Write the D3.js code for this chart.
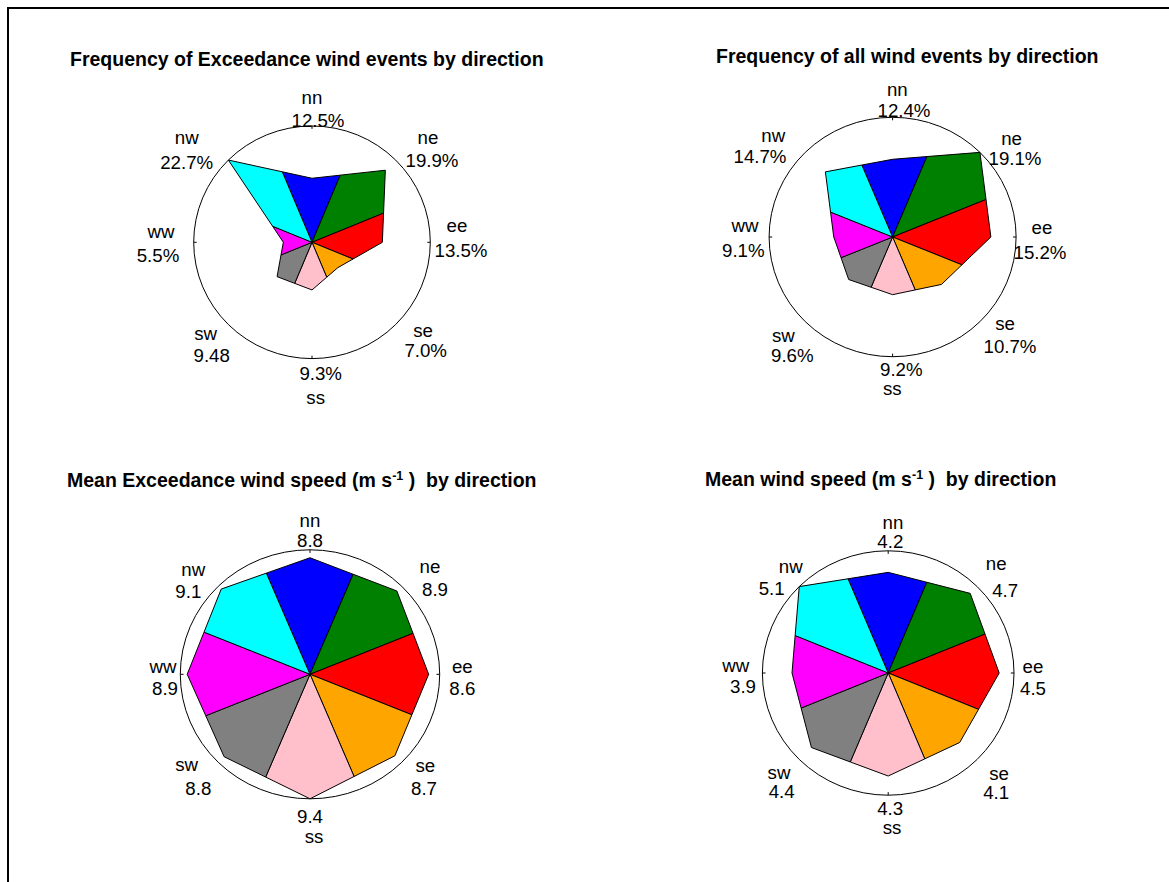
<!DOCTYPE html>
<html><head><meta charset="utf-8">
<script src="https://cdn.jsdelivr.net/npm/d3@7"></script>
<style>
html,body{margin:0;padding:0;background:#fff;}
svg{display:block;}
text{font-family:"Liberation Sans",Arial,Helvetica,sans-serif;fill:#000;}
</style></head>
<body>
<svg id="chart" width="1169" height="882"></svg>
<script>
// ---------- data ----------
const directions = ["nn","ne","ee","se","ss","sw","ww","nw"];
const sectorColors = ["#0000ff","#008000","#ff0000","#ffa500","#ffc0cb","#808080","#ff00ff","#00ffff"];

const exceedFreq = [12.5, 19.9, 13.5, 7.0, 9.3, 9.48, 5.5, 22.7];
const exceedFreqLabels = ["12.5%","19.9%","13.5%","7.0%","9.3%","9.48","5.5%","22.7%"];

const allFreq = [12.4, 19.1, 15.2, 10.7, 9.2, 9.6, 9.1, 14.7];
const allFreqLabels = ["12.4%","19.1%","15.2%","10.7%","9.2%","9.6%","9.1%","14.7%"];

const exceedSpeed = [8.8, 8.9, 8.6, 8.7, 9.4, 8.8, 8.9, 9.1];
const exceedSpeedLabels = ["8.8","8.9","8.6","8.7","9.4","8.8","8.9","9.1"];

const meanSpeed = [4.2, 4.7, 4.5, 4.1, 4.3, 4.4, 3.9, 5.1];
const meanSpeedLabels = ["4.2","4.7","4.5","4.1","4.3","4.4","3.9","5.1"];

// ---------- layout ----------
const panels = [
  {values: exceedFreq, labels: exceedFreqLabels, cx: 312, cy: 242.3, rx: 118.3, ry: 116.3,
   title: [["Frequency of Exceedance wind events by direction"]], tx: 70, ty: 66,
   // [nameDx,nameDy,valueDx,valueDy] per direction
   lab: [[0,-138,6,-115.6],[116,-98,120,-75],[145,-10.6,149,14.4],[111,95,113.7,115],
         [3.7,161.5,8.7,138],[-106.3,98,-100.3,119.4],[-151,-4,-154,20],[-125.3,-98,-125.3,-73]]},
  {values: allFreq, labels: allFreqLabels, cx: 892.6, cy: 237, rx: 123.5, ry: 119.7,
   title: [["Frequency of all wind events by direction"]], tx: 716, ty: 63,
   lab: [[4.7,-141,11.4,-119.7],[119,-92,122.4,-72],[149.4,-3,147.4,22],[112.4,93,117.4,116],
         [-0.3,158,8.7,139],[-109.3,104.7,-100.3,124.7],[-147.6,-5.3,-149.3,19.7],[-119.3,-95.3,-132.6,-73.7]]},
  {values: exceedSpeed, labels: exceedSpeedLabels, cx: 310, cy: 674.3, rx: 129.7, ry: 124.5,
   title: [["Mean Exceedance wind speed (m s"],["-1","sup"],[" )  by direction"]], tx: 67, ty: 487,
   lab: [[0,-147.6,0,-127.6],[120,-101.6,125,-78.6],[152.3,-1.6,152.3,20.7],[115.3,97.4,114,120.7],
         [4,168.4,0,149],[-123.3,96.4,-111.7,120.7],[-147,-1.3,-145,20.7],[-116.7,-98.3,-121.7,-76]]},
  {values: meanSpeed, labels: meanSpeedLabels, cx: 888.2, cy: 673, rx: 125.8, ry: 122.2,
   title: [["Mean wind speed (m s"],["-1","sup"],[" )  by direction"]], tx: 705, ty: 486,
   lab: [[4.8,-143.7,2.1,-124.7],[108,-103,117,-75.7],[144.8,0,144.8,22],[110.8,107,108,126],
         [3.8,161.3,2,142.2],[-109.2,106.3,-106.5,125.3],[-152.5,-1.3,-145.2,20.3],[-97.5,-99.7,-116.5,-78]]}
];

const svg = d3.select("#chart");

// frame (top and left edges)
svg.append("path").attr("d","M8,882 L8,8 L1169,8").attr("fill","none").attr("stroke","#000").attr("stroke-width",2);

const step = Math.PI/4, half = Math.PI/8;

panels.forEach(p => {
  const vmax = d3.max(p.values);
  const sx = d3.scaleLinear().domain([0, vmax]).range([0, p.rx]);
  const sy = d3.scaleLinear().domain([0, vmax]).range([0, p.ry]);
  const pt = (r, a) => [p.cx + sx(r*Math.sin(a)), p.cy - sy(r*Math.cos(a))];
  const g = svg.append("g");

  // outer circle (ellipse in screen space)
  g.append("ellipse").attr("cx",p.cx).attr("cy",p.cy).attr("rx",sx(vmax)).attr("ry",sy(vmax))
    .attr("fill","none").attr("stroke","#000").attr("stroke-width",1);
  // small ticks at cardinal points
  [0,2,4,6].forEach(i => {
    const a = i*step;
    const p1 = pt(vmax, a), p2 = pt(vmax*0.975, a);
    g.append("line").attr("x1",p1[0]).attr("y1",p1[1]).attr("x2",p2[0]).attr("y2",p2[1])
      .attr("stroke","#000").attr("stroke-width",1);
  });

  const n = p.values.length;
  const boundary = (i) => { // between direction i and i+1
    const r1 = p.values[i], r2 = p.values[(i+1)%n];
    const rb = 2*r1*r2*Math.cos(half)/(r1+r2);
    return pt(rb, i*step + half);
  };
  const sectors = p.values.map((v,i) => {
    const a = i*step;
    return [[p.cx,p.cy], boundary((i-1+n)%n), pt(v,a), boundary(i)];
  });
  g.selectAll("path.sector").data(sectors).join("path").attr("class","sector")
    .attr("d", d => "M" + d.map(q => q[0].toFixed(2)+","+q[1].toFixed(2)).join("L") + "Z")
    .attr("fill", (d,i) => sectorColors[i])
    .attr("stroke","#000").attr("stroke-width",1).attr("stroke-linejoin","miter");

  // labels
  directions.forEach((d,i) => {
    const L = p.lab[i];
    g.append("text").attr("x",p.cx+L[0]).attr("y",p.cy+L[1]).attr("text-anchor","middle")
      .style("font-size","18.7px").text(d);
    g.append("text").attr("x",p.cx+L[2]).attr("y",p.cy+L[3]).attr("text-anchor","middle")
      .style("font-size","18.7px").text(p.labels[i]);
  });

  // title
  const t = svg.append("text").attr("x",p.tx).attr("y",p.ty).attr("xml:space","preserve")
    .style("font-size","19.5px").style("font-weight","bold").style("white-space","pre");
  p.title.forEach(part => {
    const ts = t.append("tspan").text(part[0]);
    if (part[1] === "sup") ts.attr("baseline-shift","super").style("font-size","12.5px");
  });
});
</script>
</body></html>
